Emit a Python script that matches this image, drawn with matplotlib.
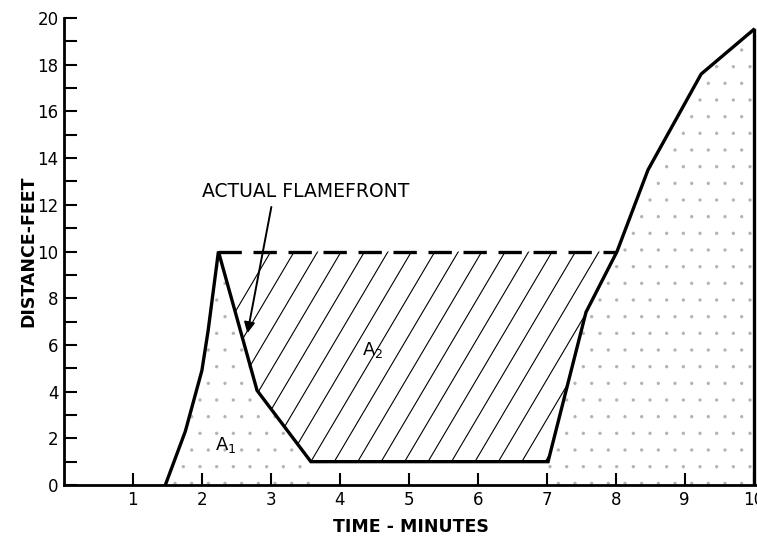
import numpy as np
import matplotlib.pyplot as plt
from matplotlib.patches import Polygon

# flamefront outline (time in minutes, distance in feet)
rise_t = [1.47, 1.76, 2.0, 2.09, 2.24]
rise_d = [0.0, 2.3, 4.9, 6.6, 10.0]
fall_t = [2.24, 2.56, 2.8, 3.58, 7.02]
fall_d = [10.0, 6.6, 4.05, 1.0, 1.0]
late_t = [7.02, 7.57, 8.02, 8.47, 9.24, 10.0]
late_d = [1.0, 7.4, 10.0, 13.5, 17.6, 19.5]
level_t = [2.24, 8.02]
level_d = [10.0, 10.0]

x_ticks = [1, 2, 3, 4, 5, 6, 7, 8, 9, 10]
y_major = [0, 2, 4, 6, 8, 10, 12, 14, 16, 18, 20]
y_minor = [1, 3, 5, 7, 9, 11, 13, 15, 17, 19]

plt.rcParams["font.family"] = "DejaVu Sans"
plt.rcParams["hatch.linewidth"] = 0.0

fig = plt.figure(figsize=(7.57, 5.38), dpi=100)
ax = fig.add_axes([0.0845, 0.0985, 0.9155, 0.868])

# stippled areas (A1 and the area past the level line)
a1 = list(zip(rise_t, rise_d)) + list(zip(fall_t[1:4], fall_d[1:4])) + [(fall_t[3], 0.0)]
ax.add_patch(Polygon(a1, closed=True, facecolor="none", edgecolor="#b4b4b4",
                     lw=0, hatch=".", zorder=1))
a3 = list(zip(late_t, late_d)) + [(late_t[-1], 0.0), (late_t[0], 0.0)]
ax.add_patch(Polygon(a3, closed=True, facecolor="none", edgecolor="#b4b4b4",
                     lw=0, hatch=".", zorder=1))

# hatched A2 region, drawn as steep lines clipped to the polygon
a2 = Polygon(list(zip(fall_t, fall_d)) + list(zip(late_t[1:3], late_d[1:3])),
             closed=True, facecolor="none", edgecolor="none")
ax.add_patch(a2)
for x0 in np.arange(1.0, 8.5, 0.34):
    ln, = ax.plot([x0, x0 + 2.2], [0.0, 11.0], color="black", lw=0.8, zorder=2)
    ln.set_clip_path(a2)

ax.plot(rise_t + fall_t[1:] + late_t[1:], rise_d + fall_d[1:] + late_d[1:],
        color="black", lw=2.4, zorder=3, solid_joinstyle="miter")
ax.plot([late_t[-1], late_t[-1]], [late_d[-1], 0], color="black", lw=2.4, zorder=3)
ax.plot(level_t, level_d, color="black", lw=2.4, dashes=(7, 3.5), zorder=3)

ax.annotate("ACTUAL FLAMEFRONT", xy=(2.66, 6.5), xytext=(2.0, 12.55),
            fontsize=13.5, va="center", ha="left",
            arrowprops=dict(arrowstyle="-|>", color="black", lw=1.4,
                            shrinkA=2, shrinkB=0, mutation_scale=16,
                            relpos=(0.34, 0.0)))
ax.text(4.48, 5.8, "A$_2$", fontsize=13, ha="center", va="center")
ax.text(2.34, 1.7, "A$_1$", fontsize=13, ha="center", va="center")

ax.set_xlim(0, 10.05)
ax.set_ylim(0, 20)
ax.set_xticks(x_ticks)
ax.set_yticks(y_major)
ax.set_yticks(y_minor, minor=True)
ax.tick_params(direction="in", length=9, width=1.5, labelsize=12, pad=4)
ax.tick_params(which="minor", direction="in", length=9, width=1.5)
for side in ["top", "right"]:
    ax.spines[side].set_visible(False)
for side in ["left", "bottom"]:
    ax.spines[side].set_linewidth(2)

ax.set_xlabel("TIME - MINUTES", fontsize=12.5, fontweight="bold", labelpad=7)
ax.set_ylabel("DISTANCE-FEET", fontsize=12.5, fontweight="bold", labelpad=0)

fig.savefig("out.png", dpi=100)
